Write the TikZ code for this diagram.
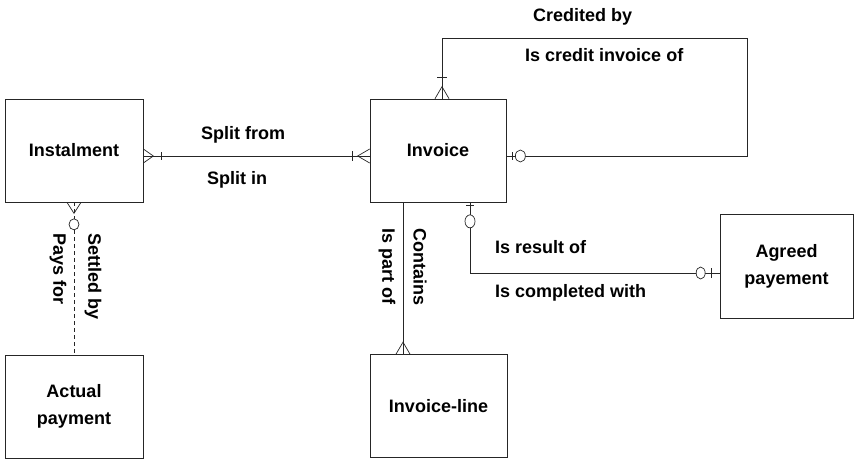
\documentclass[tikz,border=0pt]{standalone}
\usepackage{fontspec}
\setmainfont{Liberation Sans}
\usetikzlibrary{calc}
\begin{document}
\begin{tikzpicture}[x=1pt,y=-1pt,
  ent/.style={draw=black!85, line width=0.7pt, minimum width=137pt, minimum height=103pt, inner sep=0pt, align=center, font=\fontsize{18}{27}\selectfont\bfseries},
  lbl/.style={inner sep=0pt, font=\fontsize{18}{22}\selectfont\bfseries},
  rel/.style={draw=black!85, line width=0.7pt},
  opt/.style={rel, dash pattern=on 4pt off 3pt},
  ring/.style={rel, fill=white},
]
\useasboundingbox (0,0) rectangle (858,463);
% entities
\node[ent, minimum width=138pt] (inst) at (74,150.5) {Instalment};
\node[ent, minimum width=136pt] (inv) at (438,150.5) {Invoice};
\node[ent, minimum width=138pt] (act) at (74,406.5) {Actual\\payment};
\node[ent] (iline) at (438.5,406) {Invoice-line};
\node[ent, minimum width=133pt, minimum height=104pt] (agr) at (786.5,266) {Agreed\\payement};
% helper coordinates
\coordinate (y156) at (0,156);
\coordinate (y273) at (0,273);
\coordinate (x403) at (403,0);
\coordinate (x470) at (470,0);
\coordinate (x442) at (442,0);
\coordinate (ecorner) at (747,38);
% Instalment -- Invoice
\coordinate (a1) at (inst.east |- y156);
\coordinate (a2) at (inv.west |- y156);
\draw[rel] (a1) -- (a2);
\draw[rel] ($(a1)+(0,-7)$) -- ($(a1)+(10,0)$) -- ($(a1)+(0,7)$);
\draw[rel] ($(a1)+(18,-4)$) -- ($(a1)+(18,4)$);
\draw[rel] ($(a2)+(0,-7)$) -- ($(a2)+(-12,0)$) -- ($(a2)+(0,7)$);
\draw[rel] ($(a2)+(-17,-5)$) -- ($(a2)+(-17,5)$);
% Instalment -- Actual payment
\draw[opt] (inst.south) -- (act.north);
\draw[rel] ($(inst.south)+(-7,0)$) -- ($(inst.south)+(0,11)$) -- ($(inst.south)+(7,0)$);
\draw[ring] ($(inst.south)+(0,22)$) ellipse (5 and 5.5);
% Invoice -- Invoice-line
\coordinate (c1) at (inv.south -| x403);
\coordinate (c2) at (iline.north -| x403);
\draw[rel] (c1) -- (c2);
\draw[rel] ($(c2)+(-7,0)$) -- ($(c2)+(0,-12)$) -- ($(c2)+(7,0)$);
% Invoice -- Agreed payement
\coordinate (d1) at (inv.south -| x470);
\coordinate (d2) at (agr.west |- y273);
\draw[rel] (d1) |- (d2);
\draw[rel] ($(d1)+(-4,3)$) -- ($(d1)+(4,3)$);
\draw[ring] ($(d1)+(0,19)$) ellipse (5 and 6.5);
\draw[ring] ($(d2)+(-19,0)$) ellipse (4.5 and 6);
\draw[rel] ($(d2)+(-8,-5)$) -- ($(d2)+(-8,5)$);
% Invoice self relation
\coordinate (e1) at (inv.east |- y156);
\coordinate (e2) at (inv.north -| x442);
\draw[rel] (e1) -| (ecorner) -| (e2);
\draw[rel] ($(e1)+(6,-4)$) -- ($(e1)+(6,4)$);
\draw[ring] ($(e1)+(14,0)$) ellipse (5 and 6);
\draw[rel] ($(e2)+(-7,0)$) -- ($(e2)+(0,-12)$) -- ($(e2)+(7,0)$);
\draw[rel] ($(e2)+(-5,-21)$) -- ($(e2)+(5,-21)$);
% labels
\node[lbl, anchor=west] (l1) at (201,135) {Split from};
\node[lbl, anchor=west] (l2) at (207,180) {Split in};
\node[lbl, anchor=west] (l3) at (533,17) {Credited by};
\node[lbl, anchor=west] (l4) at (525,55) {Is credit invoice of};
\node[lbl, anchor=west] (l5) at (495,247) {Is result of};
\node[lbl, anchor=west] (l6) at (495,293) {Is completed with};
\node[lbl, rotate=-90, anchor=west] (l7) at (93,233) {Settled by};
\node[lbl, rotate=-90, anchor=west] (l8) at (58,233) {Pays for};
\node[lbl, rotate=-90, anchor=west] (l9) at (420,228) {Contains};
\node[lbl, rotate=-90, anchor=west] (l10) at (387,228) {Is part of};
\end{tikzpicture}
\end{document}
